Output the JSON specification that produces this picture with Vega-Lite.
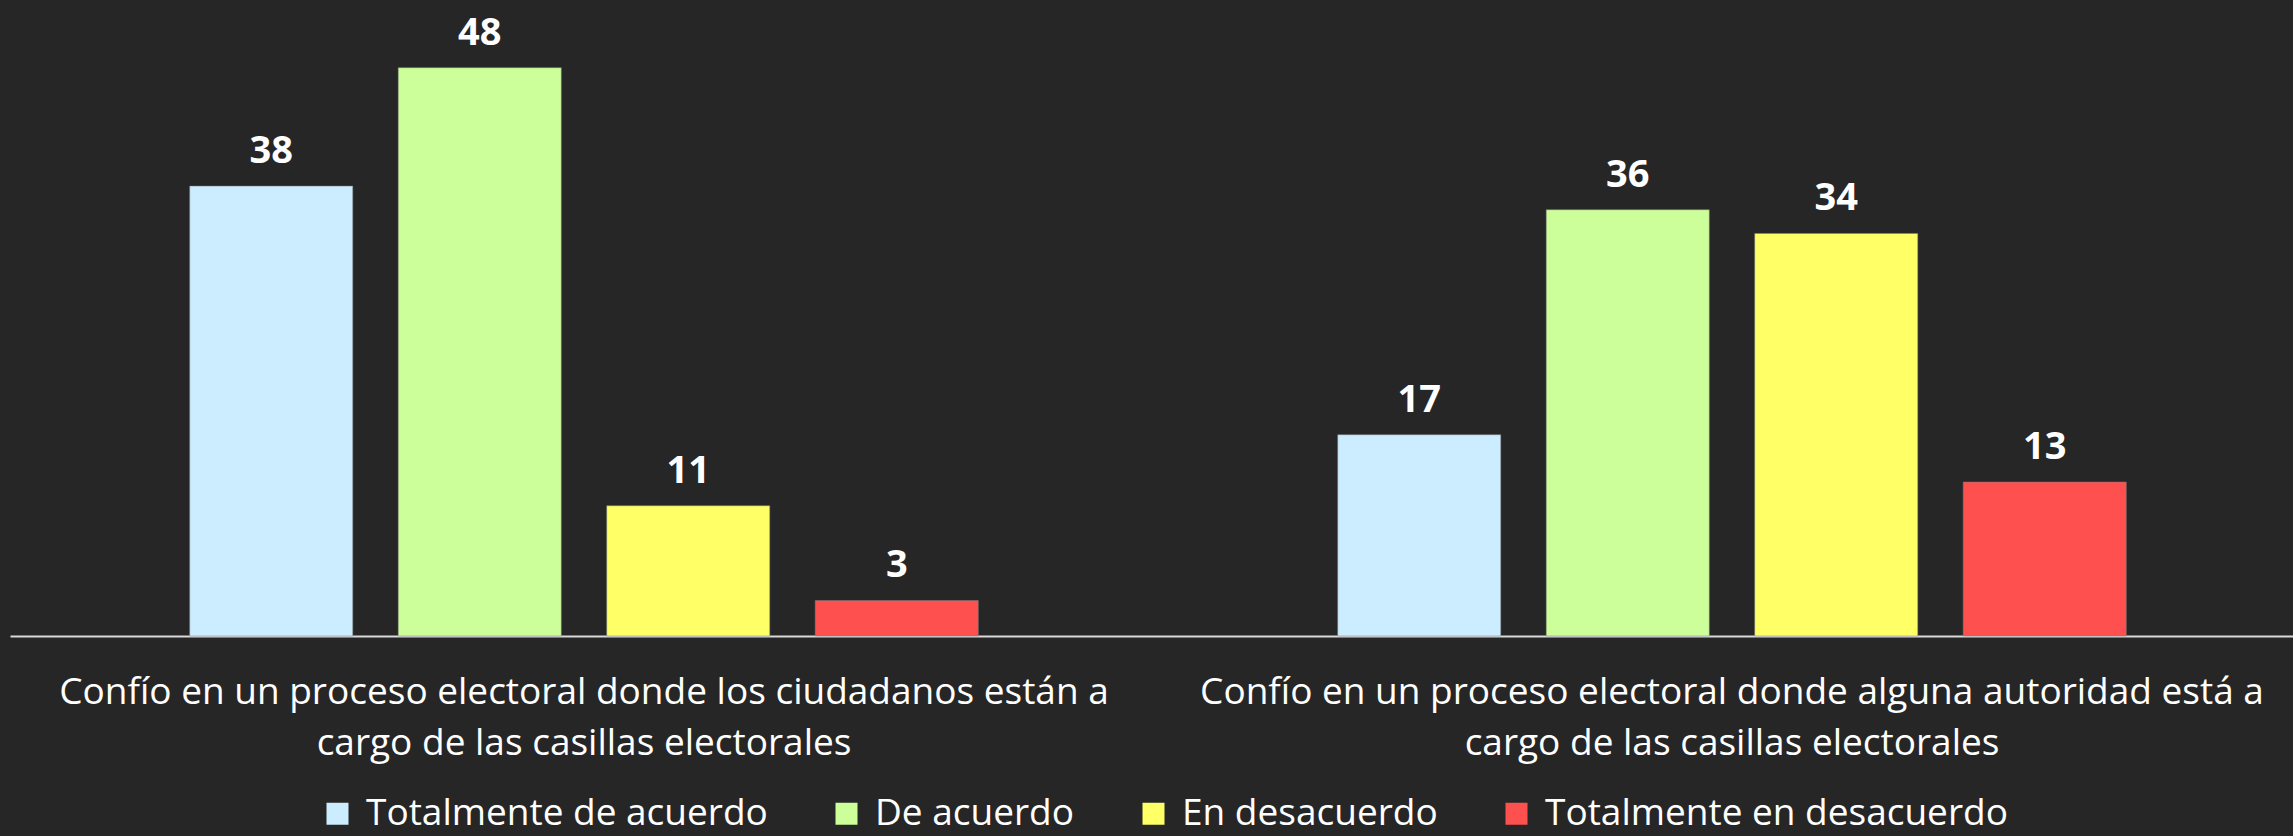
{
  "$schema": "https://vega.github.io/schema/vega-lite/v6.json",
  "autosize": "none",
  "width": 2296,
  "height": 592,
  "padding": {"left": 10, "top": 44, "right": 0, "bottom": 200},
  "background": "#262626",
  "config": {
    "view": {"stroke": null},
    "font": "Open Sans"
  },
  "data": {
    "values": [
      {"grupo": "Confío en un proceso electoral donde los ciudadanos están a cargo de las casillas electorales", "respuesta": "Totalmente de acuerdo", "valor": 38},
      {"grupo": "Confío en un proceso electoral donde los ciudadanos están a cargo de las casillas electorales", "respuesta": "De acuerdo", "valor": 48},
      {"grupo": "Confío en un proceso electoral donde los ciudadanos están a cargo de las casillas electorales", "respuesta": "En desacuerdo", "valor": 11},
      {"grupo": "Confío en un proceso electoral donde los ciudadanos están a cargo de las casillas electorales", "respuesta": "Totalmente en desacuerdo", "valor": 3},
      {"grupo": "Confío en un proceso electoral donde alguna autoridad está a cargo de las casillas electorales", "respuesta": "Totalmente de acuerdo", "valor": 17},
      {"grupo": "Confío en un proceso electoral donde alguna autoridad está a cargo de las casillas electorales", "respuesta": "De acuerdo", "valor": 36},
      {"grupo": "Confío en un proceso electoral donde alguna autoridad está a cargo de las casillas electorales", "respuesta": "En desacuerdo", "valor": 34},
      {"grupo": "Confío en un proceso electoral donde alguna autoridad está a cargo de las casillas electorales", "respuesta": "Totalmente en desacuerdo", "valor": 13}
    ]
  },
  "encoding": {
    "x": {
      "field": "grupo",
      "type": "nominal",
      "sort": null,
      "scale": {"paddingInner": 0, "paddingOuter": 0},
      "axis": {
        "title": null,
        "labelAngle": 0,
        "labelColor": "#FFFFFF",
        "labelFont": "Open Sans",
        "labelFontSize": 37,
        "labelLineHeight": 51,
        "labelPadding": 38,
        "labelLimit": 0,
        "ticks": false,
        "domainColor": "#D9D9D9",
        "domainWidth": 2,
        "labelExpr": "[slice(datum.value, 0, indexof(datum.value, ' cargo')), slice(datum.value, indexof(datum.value, ' cargo') + 1)]"
      }
    },
    "xOffset": {
      "field": "respuesta",
      "type": "nominal",
      "sort": ["Totalmente de acuerdo", "De acuerdo", "En desacuerdo", "Totalmente en desacuerdo"],
      "scale": {"paddingInner": 0.218, "paddingOuter": 0.862}
    },
    "y": {
      "field": "valor",
      "type": "quantitative",
      "scale": {"domain": [0, 50]},
      "axis": null
    }
  },
  "layer": [
    {
      "mark": {"type": "bar", "stroke": "#7f7f7f", "strokeWidth": 1, "strokeOpacity": 0.5},
      "encoding": {
        "color": {
          "field": "respuesta",
          "type": "nominal",
          "scale": {
            "domain": ["Totalmente de acuerdo", "De acuerdo", "En desacuerdo", "Totalmente en desacuerdo"],
            "range": ["#CCECFF", "#CCFF99", "#FFFF66", "#FF5050"]
          },
          "legend": {
            "title": null,
            "orient": "none",
            "legendX": 309,
            "legendY": 751,
            "direction": "horizontal",
            "symbolType": "square",
            "symbolSize": 484,
            "symbolStrokeWidth": 0,
            "symbolOpacity": 1,
            "labelColor": "#FFFFFF",
            "labelFont": "Open Sans",
            "labelFontSize": 37,
            "labelOffset": 10,
            "labelLimit": 0,
            "columnPadding": 60
          }
        }
      }
    },
    {
      "mark": {"type": "text", "baseline": "alphabetic", "dy": -23, "fontSize": 38, "fontWeight": "bold", "color": "#FFFFFF", "font": "Open Sans"},
      "encoding": {
        "text": {"field": "valor", "type": "quantitative"}
      }
    }
  ]
}
